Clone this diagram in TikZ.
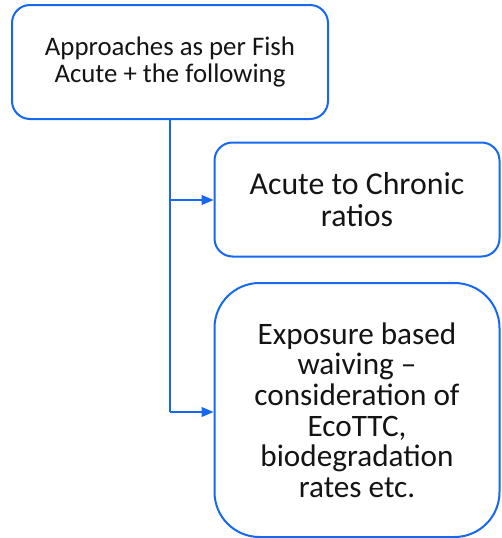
\documentclass[tikz,border=0pt]{standalone}
\usepackage{fontspec}
\setmainfont{Carlito}
\usetikzlibrary{arrows.meta}
\definecolor{flowblue}{RGB}{22,104,240}
\definecolor{inktext}{RGB}{20,20,20}
\tikzset{
  card/.style={draw=flowblue, line width=2pt, fill=white, align=center,
    text=inktext, inner sep=0pt},
  link/.style={draw=flowblue, line width=1.1pt},
  tip/.style={-{Triangle[length=12pt,width=10pt]}},
}
\begin{document}
\begin{tikzpicture}[x=1pt,y=-1pt]
  \useasboundingbox (0,0) rectangle (501,538);
  % lead box
  \node[card, rounded corners=18pt, minimum width=316pt, minimum height=114pt,
        font=\fontsize{26.8}{26.5}\selectfont] (lead) at (170,62)
        {Approaches as per Fish\\Acute + the following};
  % first branch
  \node[card, rounded corners=18pt, minimum width=285pt, minimum height=114pt,
        font=\fontsize{31.8}{32}\selectfont] (ratio) at (357,199.5)
        {Acute to Chronic\\ratios};
  % second branch
  \node[card, rounded corners=45pt, minimum width=285pt, minimum height=254pt,
        font=\fontsize{31.2}{30.6}\selectfont] (waive) at (357,410)
        {Exposure based\\waiving --\\consideration of\\EcoTTC,\\biodegradation\\rates etc.};
  % connectors
  \coordinate (j1) at (170,200);
  \coordinate (j2) at (170,412);
  \draw[link] (lead.south) -- (j2);
  \draw[link, tip] (j1) -- (j1 -| ratio.west);
  \draw[link, tip] (j2) -- (j2 -| waive.west);
\end{tikzpicture}
\end{document}
